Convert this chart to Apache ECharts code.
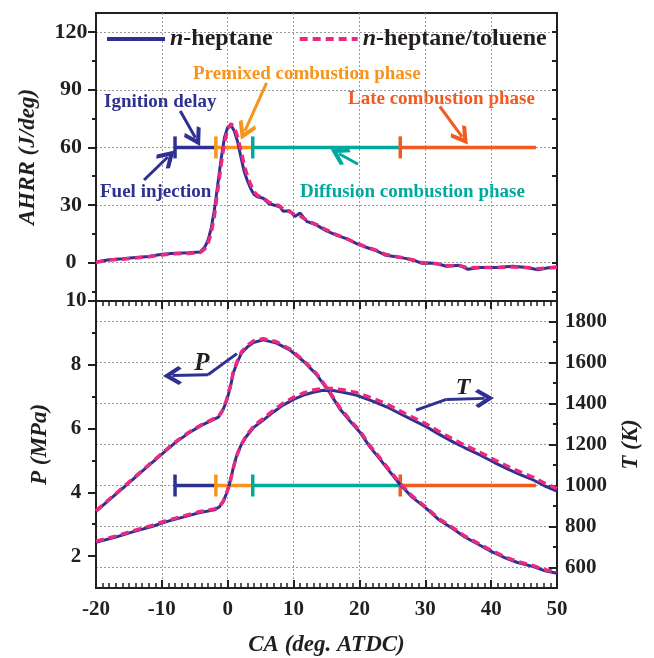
<!DOCTYPE html>
<html>
<head>
<meta charset="utf-8">
<script src="https://cdn.jsdelivr.net/npm/echarts@6/dist/echarts.min.js"></script>
<style>
  html, body { margin: 0; padding: 0; background: #fff; }
  #main { width: 654px; height: 658px; }
</style>
</head>
<body>
<div id="main"></div>
<script>
// AHRR (top panel)
var ahrrCA = [-20, -18, -16, -14, -12, -10, -8, -6, -4.2, -3.5, -3, -2.5, -2, -1.5, -1, -0.5, 0, 0.5, 1, 1.5, 2, 2.5, 3, 3.5, 4, 4.5, 5.4, 6.2, 7.9, 8.4, 9.4, 10.2, 11, 12, 13.5, 15, 16.5, 18, 19.5, 21, 22.5, 24, 25.5, 27, 28.6, 29.4, 30.7, 31.7, 33.2, 35.2, 36.5, 38.3, 40.8, 43.3, 45.4, 47.1, 48.9, 50];
var ahrrHep = [0.3, 1.5, 2.0, 2.6, 3.2, 4.3, 4.9, 5.1, 5.5, 8.0, 11.5, 18, 28, 41, 54, 65, 70.5, 71.5, 68.5, 63, 55, 47.5, 42.5, 38.5, 35.5, 34.3, 33.5, 30.8, 29.1, 26.8, 27.0, 24.0, 25.8, 21.5, 19.5, 16.5, 14.3, 12.5, 10, 8, 6.3, 3.8, 3.0, 2.2, 0.8, -0.3, -0.2, -0.5, -1.9, -1.4, -3.5, -2.6, -2.6, -1.9, -2.6, -3.7, -2.6, -2.3];
var ahrrTol = [0.2, 1.3, 1.8, 2.4, 3.0, 4.0, 4.6, 4.8, 5.2, 7.0, 10, 15.5, 25, 38, 51, 62.5, 69.5, 72.3, 70.5, 65.5, 58.5, 51, 45, 40.5, 37, 35, 33.8, 31.5, 29.5, 28, 26.5, 25, 24.2, 22, 19.8, 17, 14.6, 12.6, 10.2, 8.2, 6.5, 4.2, 3.2, 2.2, 1.0, 0, -0.3, -0.6, -1.6, -1.6, -2.8, -2.6, -2.5, -2.3, -2.6, -3.2, -2.8, -2.4];

// cylinder pressure (bottom panel, left axis)
var pCA = [-20, -17.5, -15, -12.5, -10, -8, -6, -4, -2.5, -1.4, -0.8, -0.2, 0.4, 0.84, 1.4, 2.1, 3, 3.9, 5.4, 7.4, 9.4, 11.5, 13.5, 15.5, 17, 18.5, 20.1, 21.5, 23.1, 26.1, 28, 30.2, 32, 34.2, 36, 38.3, 40, 42.3, 44, 46.4, 48, 50];
var pHep = [3.40, 3.85, 4.30, 4.75, 5.20, 5.55, 5.85, 6.10, 6.25, 6.36, 6.55, 6.85, 7.30, 7.74, 8.05, 8.37, 8.56, 8.70, 8.78, 8.68, 8.47, 8.11, 7.69, 7.12, 6.62, 6.25, 5.88, 5.45, 5.04, 4.26, 3.85, 3.49, 3.15, 2.86, 2.60, 2.34, 2.15, 1.93, 1.80, 1.67, 1.55, 1.46];
var pTol = [3.42, 3.87, 4.32, 4.77, 5.22, 5.57, 5.87, 6.12, 6.27, 6.38, 6.57, 6.88, 7.33, 7.77, 8.09, 8.41, 8.61, 8.75, 8.82, 8.72, 8.50, 8.14, 7.72, 7.15, 6.66, 6.29, 5.92, 5.49, 5.08, 4.30, 3.89, 3.52, 3.18, 2.89, 2.63, 2.37, 2.18, 1.96, 1.83, 1.70, 1.58, 1.49];

// in-cylinder temperature (bottom panel, right axis)
var tCA = [-20, -17, -14.3, -11.5, -9.3, -6.5, -4.2, -2, -1.3, -0.7, -0.2, 0.3, 0.8, 1.3, 2, 2.8, 4, 5.4, 7, 8.4, 10, 11.5, 13, 14.5, 16, 17.5, 19.5, 22, 24.1, 27, 30.2, 32, 34.2, 36, 38.3, 40.5, 42.8, 44.5, 46.4, 48, 50];
var tHep = [723, 748, 775, 800, 824, 848, 868, 881, 895, 921, 960, 1011, 1080, 1140, 1195, 1238, 1285, 1319, 1360, 1392, 1420, 1441, 1455, 1465, 1463, 1455, 1441, 1412, 1384, 1337, 1286, 1252, 1213, 1184, 1149, 1112, 1076, 1052, 1027, 1000, 972];
var tTol = [728, 753, 780, 805, 829, 853, 873, 886, 898, 921, 958, 1008, 1078, 1140, 1197, 1242, 1292, 1327, 1369, 1401, 1430, 1451, 1466, 1474, 1473, 1467, 1454, 1425, 1398, 1350, 1299, 1265, 1226, 1197, 1162, 1125, 1089, 1065, 1040, 1013, 986];

// combustion phases: start of each phase and end of the last one
var phaseBounds = [-8, -1.8, 3.8, 26.2, 46.8];
var phaseNames = ['Ignition delay', 'Premixed combustion phase', 'Diffusion combustion phase', 'Late combustion phase'];

// tick labels
var ahrrLabels = [0, 30, 60, 90, 120];
var ahrrMinor = [-15, 15, 45, 75, 105];
var pLabels = [2, 4, 6, 8, 10];
var pMinor = [3, 5, 7, 9];
var tLabels = [600, 800, 1000, 1200, 1400, 1600, 1800];
var tMinor = [700, 900, 1100, 1300, 1500, 1700];

var blue = '#2e3192', pink = '#ea2a7e', orange = '#f7941d', teal = '#00a99d', red = '#f15a22';
var ink = '#231f20', gridGrey = '#9a9a9a';
var phaseColors = [blue, orange, teal, red];
var serif = '"Liberation Serif", "Times New Roman", serif';
var chevron = 'path://M5,0 L10,7.6 L8.6,9.2 L5,3.9 L1.4,9.2 L0,7.6 Z';

var myChart = echarts.init(document.getElementById('main'));

function pairs(xs, ys) {
    return xs.map(function (x, i) { return [x, ys[i]]; });
}

function phaseSeries(xAxisIndex, yAxisIndex, level) {
    var list = [];
    for (var i = 0; i < phaseNames.length; i++) {
        list.push({
            name: phaseNames[i],
            type: 'line',
            xAxisIndex: xAxisIndex,
            yAxisIndex: yAxisIndex,
            showSymbol: true,
            silent: true,
            z: 2,
            lineStyle: { color: phaseColors[i], width: 3.5 },
            itemStyle: { color: phaseColors[i] },
            data: [
                { value: [phaseBounds[i], level], symbol: 'rect', symbolSize: [3.5, 22] },
                { value: [phaseBounds[i + 1], level], symbol: 'none' }
            ]
        });
    }
    return list;
}

function arrow(xAxisIndex, yAxisIndex, coords, head, color) {
    return {
        type: 'lines',
        coordinateSystem: 'cartesian2d',
        xAxisIndex: xAxisIndex,
        yAxisIndex: yAxisIndex,
        silent: true,
        z: 6,
        symbol: head ? ['none', chevron] : ['none', 'none'],
        symbolSize: 19,
        lineStyle: { color: color, width: 3, opacity: 1, curveness: 0 },
        data: coords.map(function (c) { return { coords: c }; })
    };
}

function ticks(values, length, inside) {
    return { show: true, customValues: values, inside: !!inside, length: length, lineStyle: { color: ink, width: 2 } };
}

var labelFont = { fontFamily: serif, fontWeight: 'bold', fontSize: 21, color: ink };
var nameFont = { fontFamily: serif, fontWeight: 'bold', fontStyle: 'italic', fontSize: 23, color: ink };
var axisLineStyle = { show: true, onZero: false, lineStyle: { color: ink, width: 2 } };
var dotted = { show: true, lineStyle: { color: gridGrey, type: [2, 2], width: 1 } };
var caTick = { show: true, inside: true, length: 8, lineStyle: { color: ink, width: 2 } };
var caMinorTick = { show: true, splitNumber: 10, length: 5, lineStyle: { color: ink, width: 1.5 } };
var plain = function (v) { return String(v); };

var option = {
    animation: false,
    textStyle: { fontFamily: serif },
    grid: [
        { left: 96, right: 97, top: 13, height: 288, show: true, borderColor: ink, borderWidth: 2 },
        { left: 96, right: 97, top: 301, height: 288, show: true, borderColor: ink, borderWidth: 2 }
    ],
    legend: {
        left: 100,
        top: 22,
        itemWidth: 58,
        itemHeight: 14,
        itemGap: 25,
        selectedMode: false,
        itemStyle: { opacity: 0 },
        lineStyle: { width: 4 },
        data: ['n-heptane', 'n-heptane/toluene'],
        formatter: function (name) { return '{i|n}' + name.slice(1); },
        textStyle: {
            fontFamily: serif, fontWeight: 'bold', fontSize: 24, color: ink,
            rich: { i: { fontFamily: serif, fontWeight: 'bold', fontStyle: 'italic', fontSize: 24, color: ink } }
        }
    },
    xAxis: [
        { gridIndex: 0, type: 'value', min: -20, max: 50, interval: 10,
          axisLine: axisLineStyle, axisTick: { show: false }, axisLabel: { show: false }, splitLine: dotted },
        { gridIndex: 1, type: 'value', min: -20, max: 50, interval: 10,
          name: 'CA (deg. ATDC)', nameLocation: 'middle', nameGap: 46, nameTextStyle: nameFont,
          axisLine: axisLineStyle, axisTick: caTick, minorTick: caMinorTick,
          axisLabel: Object.assign({ margin: 11 }, labelFont), splitLine: dotted },
        { gridIndex: 1, type: 'value', position: 'top', min: -20, max: 50, interval: 10,
          axisLine: axisLineStyle, axisTick: caTick, minorTick: caMinorTick,
          axisLabel: { show: false }, splitLine: { show: false } }
    ],
    yAxis: [
        { gridIndex: 0, type: 'value', position: 'left', min: -20, max: 130,
          name: 'AHRR (J/deg)', nameLocation: 'middle', nameGap: 56, nameTextStyle: nameFont,
          axisLine: axisLineStyle,
          axisTick: ticks(ahrrLabels, 8),
          axisLabel: Object.assign({ customValues: ahrrLabels, align: 'center', margin: 25 }, labelFont, { fontSize: 22 }),
          splitLine: dotted },
        { gridIndex: 0, type: 'value', position: 'left', min: -20, max: 130,
          axisLine: axisLineStyle,
          axisTick: ticks(ahrrMinor, 4),
          axisLabel: { show: false }, splitLine: { show: false } },
        { gridIndex: 0, type: 'value', position: 'right', min: -20, max: 130,
          axisLine: axisLineStyle,
          axisTick: ticks(ahrrLabels.concat(ahrrMinor), 5, true),
          axisLabel: { show: false }, splitLine: { show: false } },
        { gridIndex: 1, type: 'value', position: 'left', min: 1, max: 10,
          name: 'P (MPa)', nameLocation: 'middle', nameGap: 44, nameTextStyle: nameFont,
          axisLine: axisLineStyle,
          axisTick: ticks(pLabels, 8),
          axisLabel: Object.assign({ customValues: pLabels, align: 'center', margin: 20 }, labelFont),
          splitLine: { show: false } },
        { gridIndex: 1, type: 'value', position: 'left', min: 1, max: 10,
          axisLine: axisLineStyle,
          axisTick: ticks(pMinor, 4),
          axisLabel: { show: false }, splitLine: { show: false } },
        { gridIndex: 1, type: 'value', position: 'right', min: 500, max: 1900,
          name: 'T (K)', nameLocation: 'middle', nameGap: 63, nameRotate: 90, nameTextStyle: nameFont,
          axisLine: axisLineStyle,
          axisTick: ticks(tLabels, 8, true),
          axisLabel: Object.assign({ customValues: tLabels, margin: 8, formatter: plain }, labelFont),
          splitLine: dotted },
        { gridIndex: 1, type: 'value', position: 'right', min: 500, max: 1900,
          axisLine: axisLineStyle,
          axisTick: ticks(tMinor, 4, true),
          axisLabel: { show: false }, splitLine: { show: false } }
    ],
    series: [].concat(
        phaseSeries(0, 0, 60),
        phaseSeries(1, 5, 1000),
        [
            { name: 'n-heptane', type: 'line', xAxisIndex: 0, yAxisIndex: 0, showSymbol: false, symbol: 'none', z: 3,
              lineStyle: { color: blue, width: 3 }, itemStyle: { color: blue }, data: pairs(ahrrCA, ahrrHep) },
            { name: 'n-heptane/toluene', type: 'line', xAxisIndex: 0, yAxisIndex: 0, showSymbol: false, symbol: 'none', z: 4,
              lineStyle: { color: pink, width: 3.5, type: [8, 5] }, itemStyle: { color: pink }, data: pairs(ahrrCA, ahrrTol) },
            { name: 'n-heptane', type: 'line', xAxisIndex: 1, yAxisIndex: 3, showSymbol: false, symbol: 'none', z: 3,
              lineStyle: { color: blue, width: 3 }, itemStyle: { color: blue }, data: pairs(pCA, pHep) },
            { name: 'n-heptane/toluene', type: 'line', xAxisIndex: 1, yAxisIndex: 3, showSymbol: false, symbol: 'none', z: 4,
              lineStyle: { color: pink, width: 3.5, type: [8, 5] }, itemStyle: { color: pink }, data: pairs(pCA, pTol) },
            { name: 'n-heptane', type: 'line', xAxisIndex: 1, yAxisIndex: 5, showSymbol: false, symbol: 'none', z: 3,
              lineStyle: { color: blue, width: 3 }, itemStyle: { color: blue }, data: pairs(tCA, tHep) },
            { name: 'n-heptane/toluene', type: 'line', xAxisIndex: 1, yAxisIndex: 5, showSymbol: false, symbol: 'none', z: 4,
              lineStyle: { color: pink, width: 3.5, type: [8, 5] }, itemStyle: { color: pink }, data: pairs(tCA, tTol) },
            // annotation arrows
            arrow(0, 0, [[[-7.2, 79], [-4.9, 65]], [[-12.7, 43], [-9.1, 55]]], true, blue),
            arrow(0, 0, [[[5.9, 93.6], [2.6, 68.5]]], true, orange),
            arrow(0, 0, [[[32.2, 81.3], [35.6, 65.5]]], true, red),
            arrow(0, 0, [[[19.8, 51.2], [16.9, 56.7]]], true, teal),
            arrow(1, 3, [[[1.4, 8.35], [-3.0, 7.69]]], false, blue),
            arrow(1, 3, [[[-3.0, 7.69], [-8.4, 7.66]]], true, blue),
            arrow(1, 5, [[[28.6, 1368], [33.2, 1420]]], false, blue),
            arrow(1, 5, [[[33.2, 1420], [39.0, 1425]]], true, blue)
        ]
    ),
    graphic: [
        { type: 'text', x: 193, y: 74, style: { text: 'Premixed combustion phase', fill: orange, font: 'bold 19px ' + serif, verticalAlign: 'middle' } },
        { type: 'text', x: 104, y: 102, style: { text: 'Ignition delay', fill: blue, font: 'bold 19px ' + serif, verticalAlign: 'middle' } },
        { type: 'text', x: 348, y: 99, style: { text: 'Late combustion phase', fill: red, font: 'bold 19px ' + serif, verticalAlign: 'middle' } },
        { type: 'text', x: 100, y: 192, style: { text: 'Fuel injection', fill: blue, font: 'bold 19px ' + serif, verticalAlign: 'middle' } },
        { type: 'text', x: 300, y: 192, style: { text: 'Diffusion combustion phase', fill: teal, font: 'bold 19px ' + serif, verticalAlign: 'middle' } },
        { type: 'text', x: 202, y: 364, style: { text: 'P', fill: ink, font: 'italic bold 25px ' + serif, align: 'center', verticalAlign: 'middle' } },
        { type: 'text', x: 463, y: 388, style: { text: 'T', fill: ink, font: 'italic bold 24px ' + serif, align: 'center', verticalAlign: 'middle' } }
    ]
};

myChart.setOption(option);
</script>
</body>
</html>
